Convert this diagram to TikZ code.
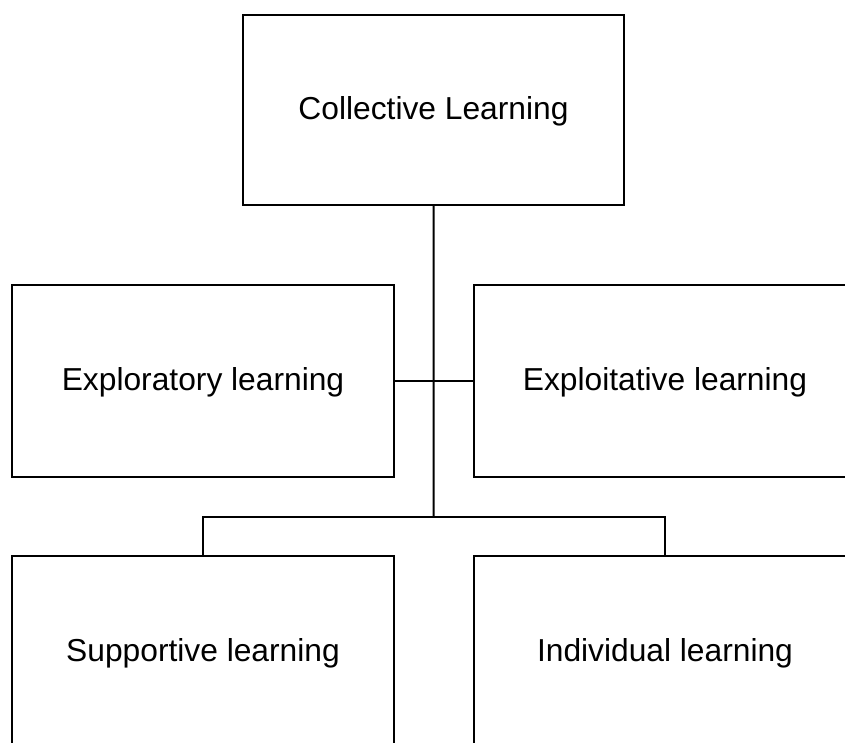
\documentclass[tikz,border=0pt]{standalone}
\usepackage{fontspec}
\setmainfont{Liberation Sans}
\begin{document}
\begin{tikzpicture}[x=1pt,y=-1pt,
  box/.style={draw=black, line width=2pt, fill=white, inner sep=0pt, outer sep=0pt,
    minimum width=382pt, minimum height=192pt, align=center,
    text height=22.7pt, text depth=3pt,
    font=\fontsize{31.75}{38}\selectfont},
  link/.style={draw=black, line width=2pt}]
  \useasboundingbox (0,0) rectangle (845,742);
  \clip (0,0) rectangle (845,742);
  % root of the hierarchy
  \node[box, minimum width=381pt, minimum height=190pt] (coll) at (433.5,110) {Collective Learning};
  % middle pair of learning modes
  \node[box] (explor) at (203,381) {Exploratory learning};
  \node[box] (exploit) at (665,381) {Exploitative learning};
  % lower pair
  \node[box] (supp) at (203,652) {Supportive learning};
  \node[box] (indiv) at (665,652) {Individual learning};
  % trunk and branches
  \coordinate (bus) at (433.7,517);
  \draw[link] (coll.south) -- (bus);
  \draw[link] (explor.east) -- (exploit.west);
  \draw[link] (supp.north) |- (bus) -| (indiv.north);
\end{tikzpicture}
\end{document}
